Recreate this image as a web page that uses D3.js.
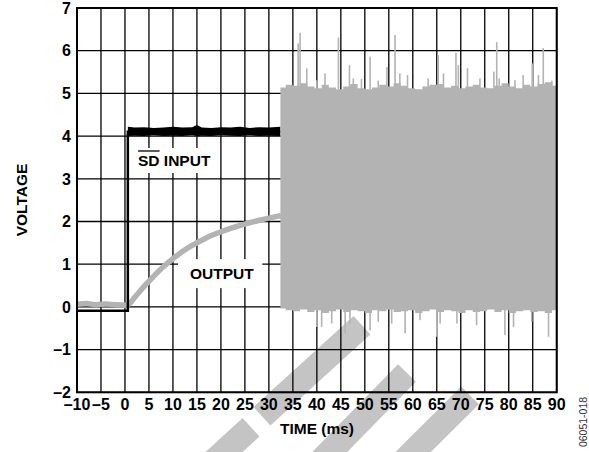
<!DOCTYPE html>
<html>
<head>
<meta charset="utf-8">
<script src="https://cdn.jsdelivr.net/npm/d3@7"></script>
<style>
  body { margin: 0; background: #fff; }
  text { font-family: "Liberation Sans", Arial, sans-serif; }
</style>
</head>
<body>
<svg id="chart" width="589" height="452"></svg>
<script>
// tick labels
const xTicks = [-10, -5, 0, 5, 10, 15, 20, 25, 30, 35, 40, 45, 50, 55, 60, 65, 70, 75, 80, 85, 90];
const yTicks = [-2, -1, 0, 1, 2, 3, 4, 5, 6, 7];

// SD input (black): low level, edge, high level
const sdInput = [[-10, -0.09], [0.6, -0.09], [0.6, 4.1], [32.4, 4.1]];
const sdRippleTime = [0.6, 2, 4, 6, 8, 10, 12, 14, 15, 16, 18, 20, 22, 24, 26, 28, 30, 32.4];
const sdRippleHigh = [4.22, 4.2, 4.21, 4.19, 4.2, 4.22, 4.2, 4.21, 4.26, 4.2, 4.19, 4.21, 4.2, 4.22, 4.19, 4.21, 4.2, 4.22];
const sdRippleLow  = [4.0, 4.01, 4.0, 4.02, 4.0, 4.01, 4.0, 4.02, 4.0, 4.01, 4.0, 4.02, 4.01, 4.0, 4.02, 4.0, 4.01, 4.0];

// OUTPUT (gray) before the noise burst
const outTime = [-10, -8, -6, -4, -2, 0.4, 1, 2, 3, 4, 5, 6, 8, 10, 12, 14, 16, 18, 20, 22, 24, 26, 28, 30, 32.5];
const outVolt = [0.06, 0.08, 0.05, 0.07, 0.05, 0.04, 0.08, 0.22, 0.35, 0.48, 0.6, 0.72, 0.94, 1.13, 1.3, 1.44, 1.56, 1.67, 1.76, 1.84, 1.91, 1.97, 2.03, 2.08, 2.14];

// noise burst envelope
const noiseTime = [32.4, 33.5, 35, 36.5, 38, 39.5, 41, 42.5, 44, 45.5, 47, 48.5, 50, 51.5, 53, 54.5, 56, 57.5, 59, 60.5,
                   62, 63.5, 65, 66.5, 68, 69.5, 71, 72.5, 74, 75.5, 77, 78.5, 80, 81.5, 83, 84.5, 86, 87.5, 89, 89.9];
const noiseTop = [5.14, 5.2, 5.18, 5.24, 5.16, 5.12, 5.2, 5.14, 5.1, 5.16, 5.22, 5.12, 5.1, 5.14, 5.2, 5.16, 5.24, 5.18, 5.12, 5.1,
                  5.16, 5.2, 5.22, 5.14, 5.18, 5.12, 5.16, 5.2, 5.14, 5.12, 5.18, 5.24, 5.16, 5.12, 5.2, 5.16, 5.22, 5.26, 5.18, 5.2];
const noiseBot = [-0.04, -0.08, -0.1, -0.06, -0.12, -0.08, -0.14, -0.1, -0.06, -0.12, -0.08, -0.1, -0.14, -0.08, -0.1, -0.06, -0.12, -0.1, -0.08, -0.14,
                  -0.1, -0.06, -0.12, -0.08, -0.1, -0.14, -0.08, -0.12, -0.1, -0.06, -0.12, -0.08, -0.14, -0.1, -0.08, -0.12, -0.1, -0.14, -0.08, -0.1];

// noise spikes [time, peak voltage]
const spikesUp = [[36.1, 6.17], [36.5, 6.42], [37.9, 5.59], [40, 5.31], [41.7, 5.47], [44.5, 6.31], [46.8, 5.66], [47.6, 5.35],
                  [49.3, 5.34], [51.1, 5.86], [52.8, 5.3], [54.6, 5.62], [56.3, 6.37], [57.3, 5.47], [58.9, 5.43], [63.2, 5.35],
                  [65.3, 5.9], [66.4, 5.47], [69.0, 5.95], [69.5, 5.66], [71.4, 5.59], [74, 5.35], [76.9, 5.51], [77.5, 6.2],
                  [78, 5.35], [81.3, 5.31], [83, 5.43], [84.9, 5.7], [86.2, 5.43], [87.2, 6.06], [89, 5.3]];
const spikesDown = [[40, -0.47], [41, -0.47], [43.1, -0.39], [45.9, -0.62], [46.9, -0.39], [51.1, -0.55], [52.8, -0.35],
                    [55.6, -0.39], [58.4, -0.62], [61.5, -0.31], [65, -0.7], [65.7, -0.39], [69.2, -0.39], [73.3, -0.43],
                    [79.2, -0.66], [81, -0.47], [84.8, -0.35], [88.3, -0.7]];

// background watermark bars, [t0, v0, t1, v1] in chart units
const watermark = [[16.06, -3.87, 26.27, -2.82], [28.57, -2.56, 49.41, -0.43],
                   [38.57, -3.87, 58.79, -1.55], [55.87, -3.87, 71.93, -2.07]];

const svg = d3.select("#chart");
const x = d3.scaleLinear().domain([-10, 90]).range([77, 556.7]);
const y = d3.scaleLinear().domain([-2, 7]).range([392.3, 8]);

// watermark
svg.append("g").selectAll("line")
    .data(watermark)
    .enter().append("line")
    .attr("x1", d => x(d[0])).attr("y1", d => y(d[1]))
    .attr("x2", d => x(d[2])).attr("y2", d => y(d[3]))
    .attr("stroke", "#c4c4c4")
    .attr("stroke-width", 25);

// grid
const grid = svg.append("g").attr("stroke", "#000").attr("stroke-width", 1.3);
grid.selectAll(".gx").data(xTicks).enter().append("line")
    .attr("x1", d => x(d)).attr("x2", d => x(d))
    .attr("y1", y(-2)).attr("y2", y(7));
grid.selectAll(".gy").data(yTicks).enter().append("line")
    .attr("y1", d => y(d)).attr("y2", d => y(d))
    .attr("x1", x(-10)).attr("x2", x(90));

// output curve
const outPts = outTime.map((t, i) => [t, outVolt[i]]);
svg.append("path")
    .attr("d", d3.line().x(d => x(d[0])).y(d => y(d[1])).curve(d3.curveMonotoneX)(outPts))
    .attr("fill", "none")
    .attr("stroke", "#b3b3b3")
    .attr("stroke-width", 5.5);

// SD input
svg.append("path")
    .attr("d", d3.line().x(d => x(d[0])).y(d => y(d[1]))(sdInput))
    .attr("fill", "none")
    .attr("stroke", "#000")
    .attr("stroke-width", 2.5);
const ripple = sdRippleTime.map((t, i) => [t, sdRippleLow[i], sdRippleHigh[i]]);
svg.append("path")
    .attr("d", d3.area().x(d => x(d[0])).y0(d => y(d[1])).y1(d => y(d[2]))(ripple))
    .attr("fill", "#000");

// noise burst
const noise = noiseTime.map((t, i) => [t, noiseBot[i], noiseTop[i]]);
svg.append("path")
    .attr("d", d3.area().x(d => x(d[0])).y0(d => y(d[1])).y1(d => y(d[2])).curve(d3.curveStepAfter)(noise))
    .attr("fill", "#b3b3b3");
svg.append("g").selectAll("rect")
    .data(spikesUp)
    .enter().append("rect")
    .attr("x", d => x(d[0]) - 0.8).attr("width", 1.6)
    .attr("y", d => y(d[1])).attr("height", d => y(5.1) - y(d[1]))
    .attr("fill", "#b3b3b3");
svg.append("g").selectAll("rect")
    .data(spikesDown)
    .enter().append("rect")
    .attr("x", d => x(d[0]) - 0.8).attr("width", 1.6)
    .attr("y", y(-0.05)).attr("height", d => y(d[1]) - y(-0.05))
    .attr("fill", "#b3b3b3");

// in-plot labels on white boxes
function boxLabel(t, v, padL, padR, padY) {
    const g = svg.append("g");
    const bg = g.append("rect").attr("fill", "#fff");
    const txt = g.append("text")
        .attr("x", x(t)).attr("y", y(v))
        .attr("font-size", 15.5).attr("font-weight", "bold");
    return { g, bg, txt, padL, padR, padY };
}
function fitBox(l) {
    const b = l.txt.node().getBBox();
    l.bg.attr("x", b.x - l.padL).attr("y", b.y - l.padY)
        .attr("width", b.width + l.padL + l.padR).attr("height", b.height + 2 * l.padY);
}

const sdLabel = boxLabel(2.72, 3.3, 5, 6, 4);
sdLabel.txt.append("tspan").text("SD");
sdLabel.txt.append("tspan").text(" INPUT");
fitBox(sdLabel);
const sdW = sdLabel.txt.node().getSubStringLength(0, 2);
sdLabel.g.append("line")
    .attr("x1", x(2.72)).attr("x2", x(2.72) + sdW)
    .attr("y1", y(3.3) - 15).attr("y2", y(3.3) - 15)
    .attr("stroke", "#000").attr("stroke-width", 1.3);

const outLabel = boxLabel(13.56, 0.65, 12, 8, 6);
outLabel.txt.text("OUTPUT");
fitBox(outLabel);

// frame
svg.append("rect")
    .attr("x", x(-10)).attr("y", y(7))
    .attr("width", x(90) - x(-10)).attr("height", y(-2) - y(7))
    .attr("fill", "none").attr("stroke", "#000").attr("stroke-width", 2);

// tick labels
const fmt = d => (d < 0 ? "\u2013" + Math.abs(d) : String(d));
svg.append("g").selectAll("text")
    .data(xTicks).enter().append("text")
    .attr("x", d => x(d)).attr("y", 410)
    .attr("text-anchor", "middle")
    .attr("font-size", 16).attr("font-weight", "bold")
    .text(fmt);
svg.append("g").selectAll("text")
    .data(yTicks).enter().append("text")
    .attr("x", 71).attr("y", d => y(d))
    .attr("dy", "0.36em")
    .attr("text-anchor", "end")
    .attr("font-size", 16).attr("font-weight", "bold")
    .text(fmt);

// axis titles
svg.append("text")
    .attr("transform", "translate(27,200) rotate(-90)")
    .attr("text-anchor", "middle")
    .attr("font-size", 15.5).attr("font-weight", "bold")
    .text("VOLTAGE");
svg.append("text")
    .attr("x", 317).attr("y", 434)
    .attr("text-anchor", "middle")
    .attr("font-size", 15.5).attr("font-weight", "bold")
    .text("TIME (ms)");
svg.append("text")
    .attr("transform", "translate(587,422) rotate(-90)")
    .attr("text-anchor", "middle")
    .attr("font-size", 10.5).attr("fill", "#333")
    .text("06051-018");
</script>
</body>
</html>
